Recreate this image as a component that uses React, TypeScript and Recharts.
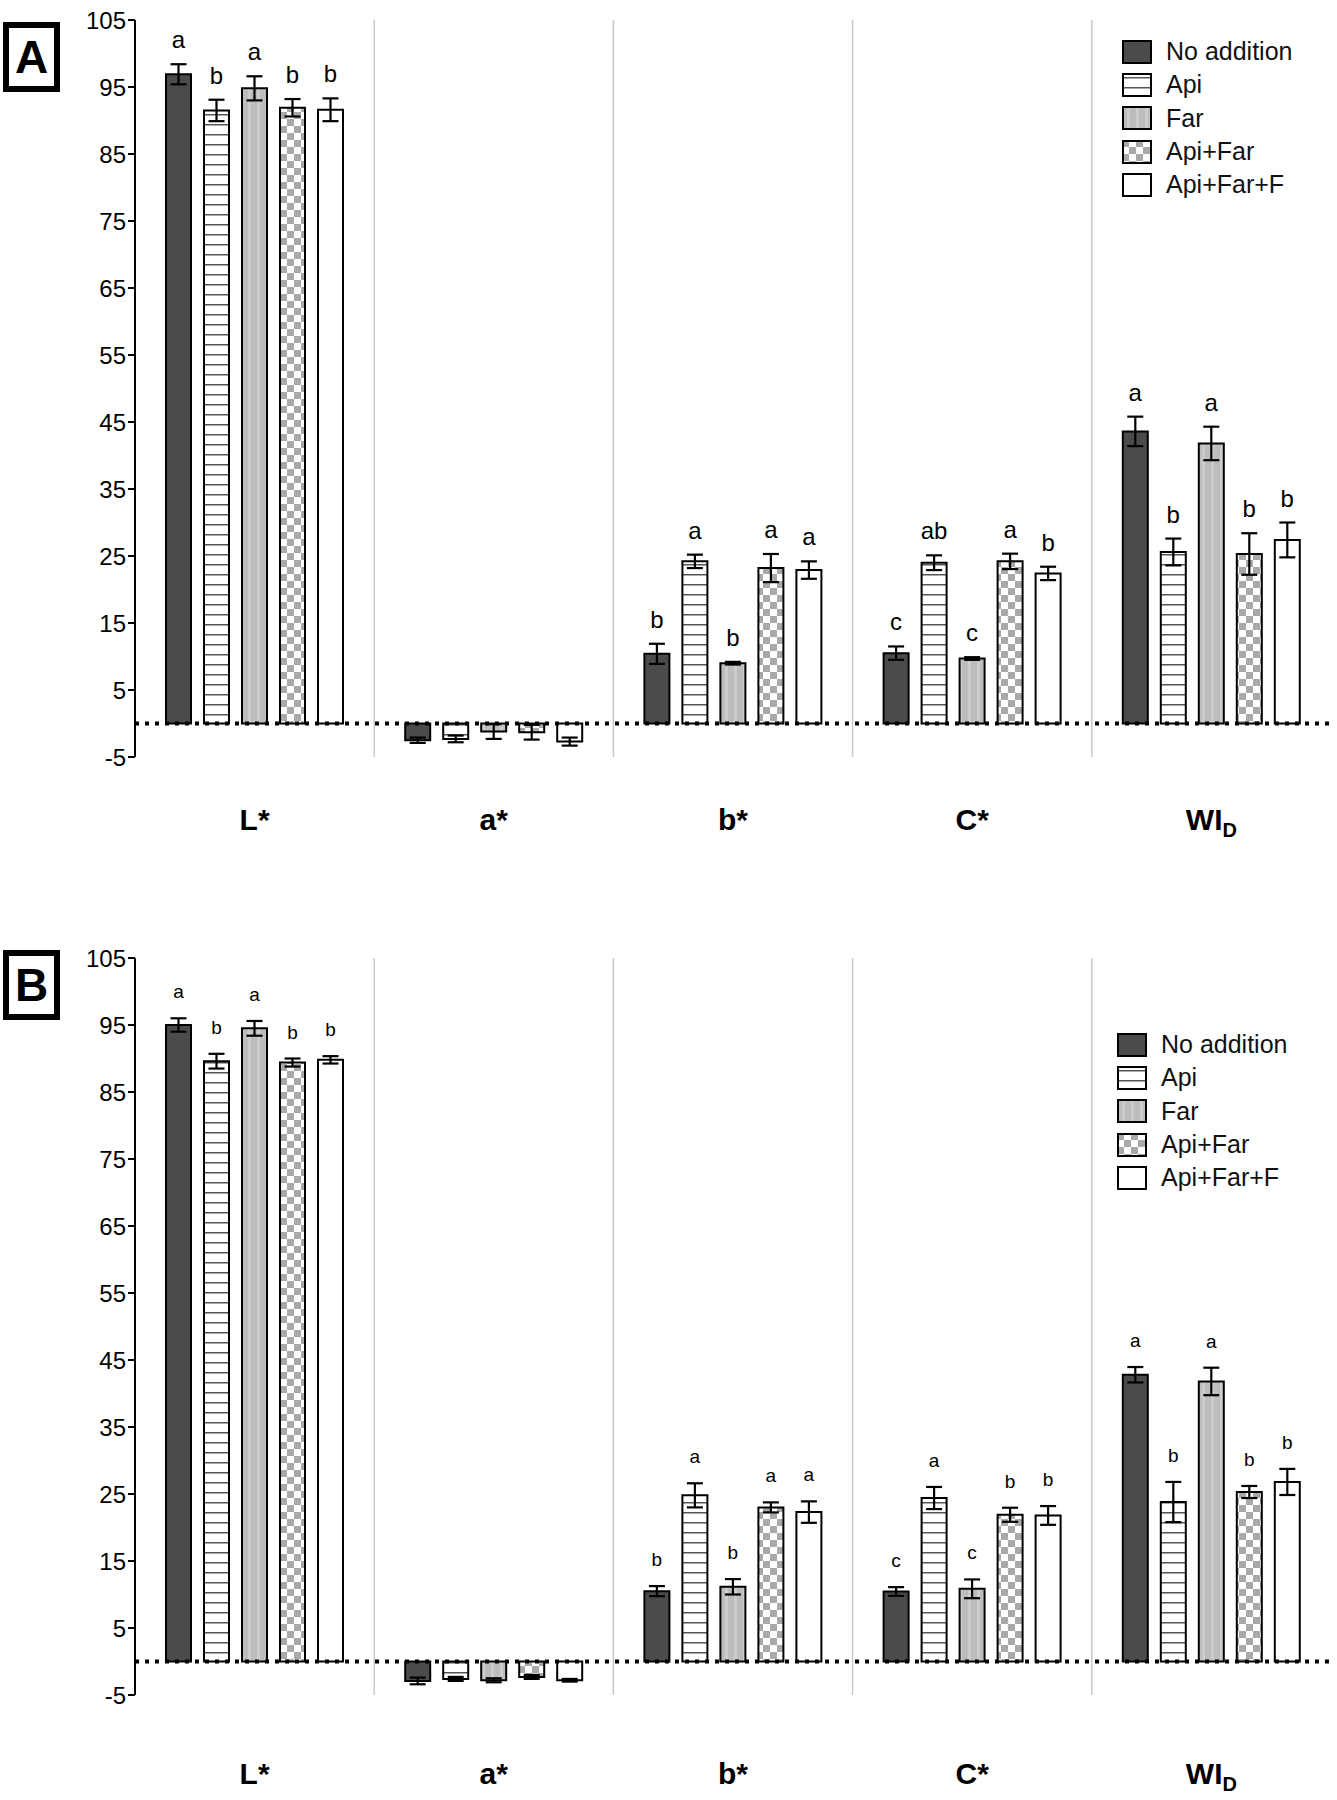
import React from 'react';
import { BarChart, Bar, XAxis, YAxis, ErrorBar, LabelList, ReferenceLine, Legend } from 'recharts';

const categories = ['L*', 'a*', 'b*', 'C*', 'WI_D'];
const treatments = ['No addition', 'Api', 'Far', 'Api+Far', 'Api+Far+F'];
const yTicks = [-5, 5, 15, 25, 35, 45, 55, 65, 75, 85, 95, 105];

// panel A – means
const aNoAddition = [96.9, -2.5, 10.4, 10.5, 43.6];
const aApi = [91.5, -2.3, 24.2, 24.0, 25.6];
const aFar = [94.8, -1.2, 9.0, 9.7, 41.8];
const aApiFar = [91.9, -1.3, 23.2, 24.2, 25.3];
const aApiFarF = [91.6, -2.7, 22.9, 22.4, 27.4];
// panel A – sd
const aNoAdditionSd = [1.5, 0.4, 1.5, 1.0, 2.2];
const aApiSd = [1.6, 0.5, 1.0, 1.1, 2.0];
const aFarSd = [1.8, 1.1, 0.2, 0.2, 2.5];
const aApiFarSd = [1.3, 1.1, 2.1, 1.15, 3.1];
const aApiFarFSd = [1.7, 0.6, 1.3, 1.0, 2.6];
// panel A – letters
const aNoAdditionLetters = ['a', '', 'b', 'c', 'a'];
const aApiLetters = ['b', '', 'a', 'ab', 'b'];
const aFarLetters = ['a', '', 'b', 'c', 'a'];
const aApiFarLetters = ['b', '', 'a', 'a', 'b'];
const aApiFarFLetters = ['b', '', 'a', 'b', 'b'];

// panel B – means
const bNoAddition = [95.0, -2.9, 10.5, 10.45, 42.8];
const bApi = [89.6, -2.6, 24.8, 24.4, 23.8];
const bFar = [94.5, -2.8, 11.15, 10.85, 41.8];
const bApiFar = [89.4, -2.3, 23.0, 21.9, 25.3];
const bApiFarF = [89.8, -2.8, 22.3, 21.8, 26.8];
// panel B – sd
const bNoAdditionSd = [1.0, 0.5, 0.75, 0.65, 1.15];
const bApiSd = [1.1, 0.3, 1.8, 1.65, 3.0];
const bFarSd = [1.1, 0.3, 1.15, 1.4, 2.05];
const bApiFarSd = [0.6, 0.3, 0.75, 1.05, 0.9];
const bApiFarFSd = [0.55, 0.2, 1.6, 1.4, 1.95];
// panel B – letters
const bNoAdditionLetters = ['a', '', 'b', 'c', 'a'];
const bApiLetters = ['b', '', 'a', 'a', 'b'];
const bFarLetters = ['a', '', 'b', 'c', 'a'];
const bApiFarLetters = ['b', '', 'a', 'b', 'b'];
const bApiFarFLetters = ['b', '', 'a', 'b', 'b'];

const fills = ['#4b4b4b', 'url(#patApi)', 'url(#patFar)', 'url(#patChk)', '#ffffff'];
const FONT = '"Liberation Sans", Arial, Helvetica, sans-serif';

function buildRows(means: number[][], sds: number[][], letters: string[][]) {
  return categories.map((cat, i) => {
    const row: any = { cat };
    means.forEach((m, t) => {
      row['v' + t] = m[i];
      row['s' + t] = sds[t][i];
      row['l' + t] = letters[t][i];
    });
    return row;
  });
}

const rowsA = buildRows(
  [aNoAddition, aApi, aFar, aApiFar, aApiFarF],
  [aNoAdditionSd, aApiSd, aFarSd, aApiFarSd, aApiFarFSd],
  [aNoAdditionLetters, aApiLetters, aFarLetters, aApiFarLetters, aApiFarFLetters],
);
const rowsB = buildRows(
  [bNoAddition, bApi, bFar, bApiFar, bApiFarF],
  [bNoAdditionSd, bApiSd, bFarSd, bApiFarSd, bApiFarFSd],
  [bNoAdditionLetters, bApiLetters, bFarLetters, bApiFarLetters, bApiFarFLetters],
);

function Patterns() {
  return (
    <svg width={0} height={0} style={{ position: 'absolute' }}>
      <defs>
        <pattern id="patApi" patternUnits="userSpaceOnUse" width={10} height={10}>
          <rect width={10} height={10} fill="#fff" />
          <rect y={4} width={10} height={1.5} fill="#555" />
        </pattern>
        <pattern id="patFar" patternUnits="userSpaceOnUse" width={9} height={9}>
          <rect width={9} height={9} fill="#bdbdbd" />
          <rect x={5} width={3} height={9} fill="#cccccc" />
        </pattern>
        <pattern id="patChk" patternUnits="userSpaceOnUse" width={14} height={14}>
          <rect width={14} height={14} fill="#fff" />
          <rect width={7} height={7} fill="#a9a9a9" />
          <rect x={7} y={7} width={7} height={7} fill="#a9a9a9" />
        </pattern>
      </defs>
    </svg>
  );
}

function CatTick(props: any) {
  const { x, y, payload, offset } = props;
  const style = { fontFamily: FONT, fontWeight: 'bold' as const };
  if (payload.value === 'WI_D') {
    return (
      <text x={x} y={y + offset} textAnchor="middle" fontSize={30} fill="#000" style={style}>
        WI<tspan fontSize={20} dy={7}>D</tspan>
      </text>
    );
  }
  return (
    <text x={x} y={y + offset} textAnchor="middle" fontSize={30} fill="#000" style={style}>
      {payload.value}
    </text>
  );
}

function makeLetter(size: number, gap: number) {
  return (props: any) => {
    const vb = props.viewBox || props;
    const parts = String(props.value ?? '').split('|');
    const letter = parts[0];
    if (!letter) return null;
    const sd = Number(parts[1]);
    const mean = Number(parts[2]);
    const h = Math.abs(vb.height);
    const perUnit = mean !== 0 ? h / Math.abs(mean) : 0;
    const top = Math.min(vb.y, vb.y + vb.height) - sd * perUnit;
    return (
      <text x={vb.x + vb.width / 2} y={top - gap} textAnchor="middle" fontSize={size} fill="#000" style={{ fontFamily: FONT }}>
        {letter}
      </text>
    );
  };
}

function LegendBox(props: any) {
  const items = [...(props.payload || [])].sort(
    (p: any, q: any) => treatments.indexOf(p.value) - treatments.indexOf(q.value),
  );
  return (
    <div style={{ fontFamily: FONT }}>
      {items.map((e: any) => (
        <div key={e.value} style={{ display: 'flex', alignItems: 'center', height: 33.3 }}>
          <svg width={30} height={24}>
            <rect x={1} y={1} width={28} height={22} fill={fills[treatments.indexOf(e.value)]} stroke="#000" strokeWidth={2} />
          </svg>
          <span style={{ marginLeft: 14, fontSize: 25, color: '#111' }}>{e.value}</span>
        </div>
      ))}
    </div>
  );
}

interface PanelProps {
  rows: any[];
  letterSize: number;
  letterGap: number;
  labelOffset: number;
  legendLeft: number;
  legendTop: number;
}

function Panel({ rows, letterSize, letterGap, labelOffset, legendLeft, legendTop }: PanelProps) {
  const letterContent = makeLetter(letterSize, letterGap);
  return (
    <BarChart
      width={1337}
      height={862}
      data={rows}
      margin={{ top: 20, right: 6, bottom: 0, left: 0 }}
      barSize={25}
      barGap={13}
    >
      <XAxis
        dataKey="cat"
        axisLine={false}
        tickLine={false}
        height={105}
        interval={0}
        tick={<CatTick offset={labelOffset} />}
      />
      <YAxis
        domain={[-5, 105]}
        ticks={yTicks}
        interval={0}
        width={135}
        allowDataOverflow
        axisLine={{ stroke: '#000', strokeWidth: 2 }}
        tickLine={{ stroke: '#000', strokeWidth: 2 }}
        tickSize={7}
        tick={{ fill: '#000', fontSize: 24, fontFamily: FONT }}
      />
      {categories.slice(1).map(c => (
        <ReferenceLine key={c} x={c} position="start" stroke="#c8c8c8" strokeWidth={1.5} />
      ))}
      {treatments.map((name, t) => (
        <Bar
          key={name}
          dataKey={'v' + t}
          name={name}
          fill={fills[t]}
          stroke="#000"
          strokeWidth={2}
          isAnimationActive={false}
        >
          <ErrorBar dataKey={'s' + t} width={8} stroke="#000" strokeWidth={2.2} isAnimationActive={false} />
          <LabelList
            dataKey={(r: any) => `${r['l' + t]}|${r['s' + t]}|${r['v' + t]}`}
            content={letterContent}
          />
        </Bar>
      ))}
      <ReferenceLine y={0} stroke="#000" strokeWidth={4} strokeDasharray="4 6" zIndex={800} />
      <Legend
        layout="vertical"
        align="center"
        verticalAlign="middle"
        content={<LegendBox />}
        wrapperStyle={{ left: legendLeft, top: legendTop, width: 240, height: 170 }}
      />
    </BarChart>
  );
}

function PanelTag({ label, top }: { label: string; top: number }) {
  return (
    <div
      style={{
        position: 'absolute', left: 3, top, width: 45, height: 58,
        border: '6px solid #000', fontFamily: FONT, fontWeight: 'bold',
        fontSize: 46, lineHeight: '58px', textAlign: 'center', color: '#000',
      }}
    >
      {label}
    </div>
  );
}

export default function App() {
  return (
    <div style={{ position: 'absolute', left: 0, top: 0, width: 1337, height: 1800, background: '#fff', fontFamily: FONT }}>
      <Patterns />
      <div style={{ position: 'absolute', left: 0, top: 0 }}>
        <Panel rows={rowsA} letterSize={24} letterGap={16} labelOffset={65} legendLeft={1122} legendTop={35} />
      </div>
      <div style={{ position: 'absolute', left: 0, top: 938 }}>
        <Panel rows={rowsB} letterSize={19} letterGap={20} labelOffset={81} legendLeft={1117} legendTop={90} />
      </div>
      <PanelTag label="A" top={22} />
      <PanelTag label="B" top={950} />
    </div>
  );
}
